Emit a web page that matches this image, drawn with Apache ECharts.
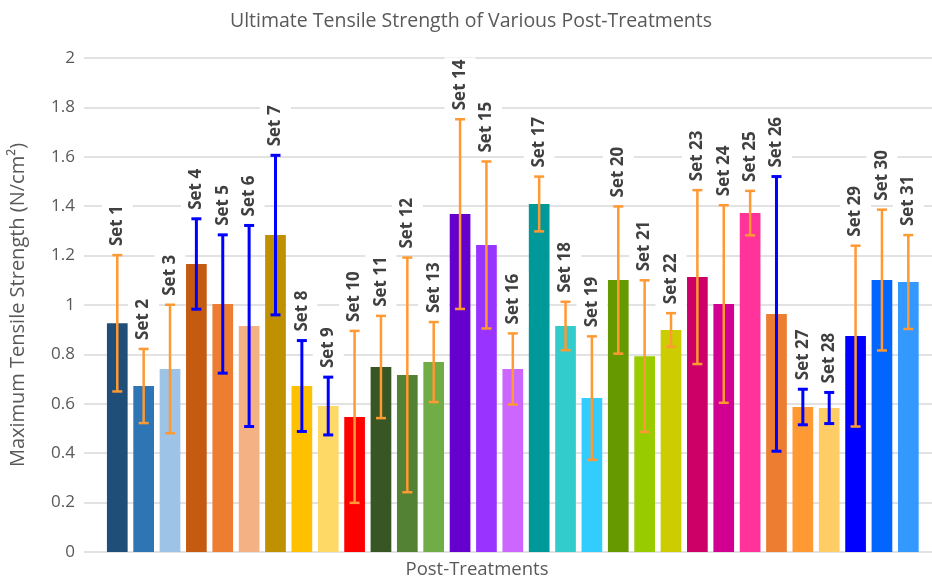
<!DOCTYPE html>
<html><head><meta charset="utf-8">
<script src="https://cdn.jsdelivr.net/npm/echarts@6/dist/echarts.min.js"></script>
<style>html,body{margin:0;padding:0;background:#fff}#c{width:932px;height:577px}</style>
</head><body><div id="c"></div>
<script>
const categories = ['Set 1','Set 2','Set 3','Set 4','Set 5','Set 6','Set 7','Set 8','Set 9','Set 10',
  'Set 11','Set 12','Set 13','Set 14','Set 15','Set 16','Set 17','Set 18','Set 19','Set 20',
  'Set 21','Set 22','Set 23','Set 24','Set 25','Set 26','Set 27','Set 28','Set 29','Set 30','Set 31'];
const means = [0.926,0.672,0.741,1.166,1.004,0.915,1.283,0.672,0.591,0.547,
  0.749,0.717,0.769,1.368,1.243,0.741,1.409,0.915,0.623,1.101,
  0.793,0.899,1.113,1.004,1.372,0.964,0.587,0.583,0.874,1.101,1.093];
const errors = [0.276,0.150,0.260,0.183,0.280,0.407,0.323,0.184,0.117,0.348,
  0.207,0.475,0.162,0.384,0.338,0.144,0.111,0.098,0.250,0.298,
  0.307,0.068,0.352,0.400,0.090,0.556,0.072,0.063,0.366,0.285,0.190];
const blueErrorSets = ['Set 4','Set 5','Set 6','Set 7','Set 8','Set 9','Set 26','Set 27','Set 28'];
const yTickMin = 0, yTickMax = 2, yTickStep = 0.2;

const barColors = ['#1F4E79','#2E75B6','#9DC3E6','#C55A11','#ED7D31','#F4B183','#BF9000','#FFC000','#FFD966','#FF0000',
  '#375623','#548235','#70AD47','#6600CC','#9933FF','#CC66FF','#009999','#33CCCC','#33CCFF','#669900',
  '#99CC00','#CCCC00','#CC0066','#D10092','#FF3399','#ED7D31','#FF9933','#FFCC66','#0000FF','#0066FF','#3399FF'];
const ORANGE = '#FF9933', BLUE = '#0000FF';
const FONT = '"Open Sans", sans-serif';

const chart = echarts.init(document.getElementById('c'), null, {renderer:'canvas'});
const errData = categories.map((c,i)=>[i, means[i]-errors[i], means[i]+errors[i]]);

chart.setOption({
  animation:false,
  backgroundColor:'#fff',
  title:[
    {text:'Ultimate Tensile Strength of Various Post-Treatments', left:466, top:6, textAlign:'center',
     textStyle:{fontFamily:FONT, fontSize:19.5, fontWeight:'normal', color:'#595959'}},
    {text:'Post-Treatments', left:472, top:555, textAlign:'center',
     textStyle:{fontFamily:FONT, fontSize:18.5, fontWeight:'normal', color:'#595959'}}
  ],
  grid:[
    {left:84, right:0, top:58, bottom:25},
    {left:104.1, right:10.5, top:58, bottom:25}
  ],
  xAxis:[
    {gridIndex:0, type:'value', show:false, min:0, max:1},
    {gridIndex:1, type:'category', data:categories, axisLabel:{show:false}, axisTick:{show:false}, axisLine:{show:false}}
  ],
  yAxis:[
    {gridIndex:0, type:'value', min:yTickMin, max:yTickMax, interval:yTickStep,
     name:'Maximum Tensile Strength (N/cm²)', nameLocation:'middle', nameGap:56,
     nameTextStyle:{fontFamily:FONT, fontSize:20, color:'#595959'},
     axisLabel:{fontFamily:FONT, fontSize:17, color:'#595959', margin:9},
     axisLine:{show:false}, axisTick:{show:false},
     splitLine:{lineStyle:{color:'#D9D9D9', width:1.5}}},
    {gridIndex:1, type:'value', min:yTickMin, max:yTickMax, show:false, splitLine:{show:false}}
  ],
  series:[
    {type:'bar', xAxisIndex:1, yAxisIndex:1, barCategoryGap:'21.5%', z:2,
     data: means.map((v,i)=>({value:v, itemStyle:{color:barColors[i]}}))},
    {type:'custom', xAxisIndex:1, yAxisIndex:1, z:3, data:errData,
     renderItem:(params, api)=>{
       const i = api.value(0);
       const lo = api.coord([i, api.value(1)]);
       const hi = api.coord([i, api.value(2)]);
       const blue = blueErrorSets.includes(categories[params.dataIndex]);
       const c = blue ? BLUE : ORANGE;
       const w = blue ? 3 : 2.5;
       const h = 5;
       const st = {stroke:c, lineWidth:w};
       return {type:'group', children:[
         {type:'line', shape:{x1:hi[0], y1:hi[1], x2:lo[0], y2:lo[1]}, style:st},
         {type:'line', shape:{x1:hi[0]-h, y1:hi[1], x2:hi[0]+h, y2:hi[1]}, style:st},
         {type:'line', shape:{x1:lo[0]-h, y1:lo[1], x2:lo[0]+h, y2:lo[1]}, style:st}
       ]};
     }},
    {type:'custom', xAxisIndex:1, yAxisIndex:1, z:4, data:errData,
     renderItem:(params, api)=>{
       const i = api.value(0);
       const hi = api.coord([i, api.value(2)]);
       return {type:'text', x:hi[0], y:hi[1]-7, rotation:Math.PI/2,
         style:{text:categories[params.dataIndex], font:'bold 17px ' + FONT, fill:'#404040',
           align:'left', verticalAlign:'middle', backgroundColor:'#fff', padding:[7,2,7,2]}};
     }}
  ]
});
</script>
</body></html>
